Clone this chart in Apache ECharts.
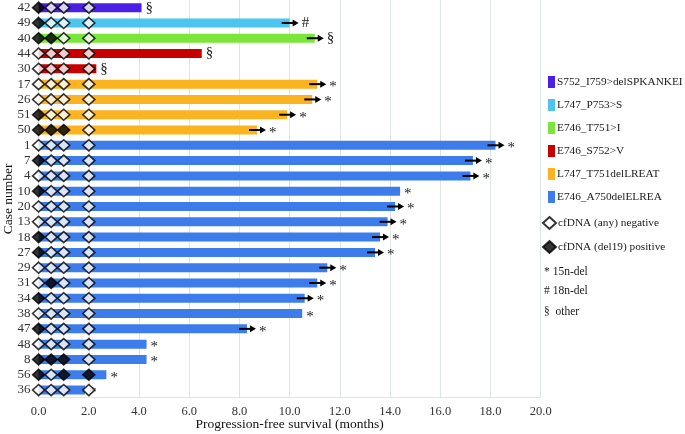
<!DOCTYPE html>
<html>
<head>
<meta charset="utf-8">
<script src="https://cdn.jsdelivr.net/npm/echarts@6/dist/echarts.min.js"></script>
<style>html,body{margin:0;padding:0;background:#fff}#c{width:685px;height:434px}</style>
</head>
<body>
<div id="c"></div>
<script>
const cases = ['42','49','40','44','30','17','26','51','50','1','7','4','10','20','13','18','27','29','31','34','38','47','48','8','56','36'];
const pfs = [4.1,10.0,11.0,6.5,2.3,11.1,10.9,9.9,8.7,18.2,17.3,17.2,14.4,14.2,13.9,13.6,13.4,11.5,11.1,10.6,10.5,8.3,4.3,4.3,2.7,1.85];
const mutationNames = ['S752_I759>delSPKANKEI','L747_P753>S','E746_T751>I','E746_S752>V','L747_T751delLREAT','E746_A750delELREA'];
const mutationColors = ['#4a1fe6','#4cc6f0','#7be63a','#c80000','#fbb31f','#3d7ceb'];
const mutation = [0,1,2,3,3,4,4,4,4,5,5,5,5,5,5,5,5,5,5,5,5,5,5,5,5,5];
const ongoing = [0,1,1,0,0,1,1,1,1,1,1,1,0,1,1,1,1,1,1,1,0,1,0,0,0,0];
const deletionMark = ['§','#','§','§','§','*','*','*','*','*','*','*','*','*','*','*','*','*','*','*','*','*','*','*','*','*'];
const cfdnaTimes = [0,0.5,1.0,2.0];
const cfdnaPositive = [
 [1,0,0,0],[1,0,0,0],[1,1,0,0],[0,0,0,0],[0,0,0,0],[0,0,0,0],[0,0,0,0],[1,0,0,0],[1,1,1,0],
 [0,0,0,0],[1,0,0,0],[0,0,0,0],[1,0,0,0],[0,0,0,0],[0,0,0,0],[1,0,0,0],[1,0,0,0],[0,0,0,0],
 [0,1,0,0],[1,0,0,0],[0,0,0,0],[1,0,0,0],[0,0,0,0],[1,1,1,0],[1,0,1,1],[0,0,0,0]
];
const noteLines = ['* 15n-del','# 18n-del','§  other'];
const xTicks = {min:0,max:20,interval:2};

const FONT = 'Liberation Serif';
const GRID = '#dfe5e5';

const barSeries = mutationNames.map((name, m) => ({
  name: name, type: 'bar', stack: 'pfs', barWidth: 9,
  itemStyle: {color: mutationColors[m]},
  data: pfs.map((v, i) => mutation[i] === m ? v : '-'),
  z: 2
}));

const negData = [], posData = [];
cfdnaPositive.forEach((row, i) => row.forEach((p, k) => {
  (p ? posData : negData).push([cfdnaTimes[k], i]);
}));

const markSeries = {
  type: 'custom', z: 5, silent: true,
  encode: {x: 0, y: 1},
  data: pfs.map((v, i) => [v, i]),
  renderItem: function (params, api) {
    const i = params.dataIndex;
    const p = api.coord([api.value(0), api.value(1)]);
    const ch = [];
    let tx = p[0] + 4;
    if (ongoing[i]) {
      const x0 = p[0] - 8, x1 = p[0] + 9;
      ch.push({type:'line', shape:{x1:x0, y1:p[1], x2:x1-5, y2:p[1]}, style:{stroke:'#000', lineWidth:2}});
      ch.push({type:'polygon', shape:{points:[[x1-6,p[1]-3.5],[x1,p[1]],[x1-6,p[1]+3.5]]}, style:{fill:'#000'}});
      tx = x1 + 3;
    }
    const mk = deletionMark[i];
    ch.push({type:'text', style:{text: mk, x: tx, y: p[1] + (mk === '*' ? 3 : 0),
      font: '15px ' + FONT, fill: '#222', textAlign:'left', textVerticalAlign:'middle'}});
    return {type:'group', children: ch};
  }
};

const option = {
  animation: false,
  textStyle: {fontFamily: FONT},
  grid: {left: 38.6, right: 144.3, top: 0, bottom: 36.3, outerBoundsMode: 'none', containLabel: false},
  xAxis: {
    type: 'value', min: xTicks.min, max: xTicks.max, interval: xTicks.interval,
    name: 'Progression-free survival (months)', nameLocation: 'middle', nameGap: 20, nameMoveOverlap: false,
    nameTextStyle: {fontFamily: FONT, fontSize: 13.5, color: '#111'},
    axisLine: {show: true, lineStyle: {color: GRID}},
    axisTick: {show: false},
    axisLabel: {fontFamily: FONT, fontSize: 12.5, color: '#333', margin: 8, formatter: v => v.toFixed(1)},
    splitLine: {show: true, lineStyle: {color: GRID, width: 1}}
  },
  yAxis: {
    type: 'category', data: cases, inverse: true,
    name: 'Case number', nameLocation: 'middle', nameGap: 23, nameMoveOverlap: false,
    nameTextStyle: {fontFamily: FONT, fontSize: 13.5, color: '#111'},
    axisLine: {show: true, lineStyle: {color: GRID}},
    axisTick: {show: false},
    axisLabel: {interval: 0, fontFamily: FONT, fontSize: 13, color: '#333', margin: 8}
  },
  legend: [{
    data: mutationNames, orient: 'vertical', left: 543, top: 71, icon: 'rect',
    itemWidth: 7, itemHeight: 12, itemGap: 11,
    textStyle: {fontFamily: FONT, fontSize: 11.3, color: '#1a1a1a', padding: [0,0,0,-3]}
  }, {
    data: ['cfDNA (any) negative', 'cfDNA (del19) positive'], orient: 'vertical', left: 537, top: 211,
    itemWidth: 13, itemHeight: 12, itemGap: 10,
    textStyle: {fontFamily: FONT, fontSize: 11.3, color: '#1a1a1a', padding: [0,0,0,-3]}
  }],
  graphic: noteLines.map((t, k) => ({
    type: 'text', left: 544, top: [266, 285, 306][k],
    style: {text: t, font: '11.5px ' + FONT, fill: '#1a1a1a'}
  })),
  series: barSeries.concat([
    markSeries,
    {name: 'cfDNA (any) negative', type: 'scatter', symbol: 'diamond', symbolSize: [12, 11], z: 6,
     itemStyle: {color: '#fff', borderColor: '#000', borderWidth: 1.6}, data: negData},
    {name: 'cfDNA (del19) positive', type: 'scatter', symbol: 'diamond', symbolSize: [12, 11], z: 6,
     itemStyle: {color: '#000', borderColor: '#000', borderWidth: 1.6}, data: posData}
  ])
};
echarts.init(document.getElementById('c')).setOption(option);
</script>
</body>
</html>
